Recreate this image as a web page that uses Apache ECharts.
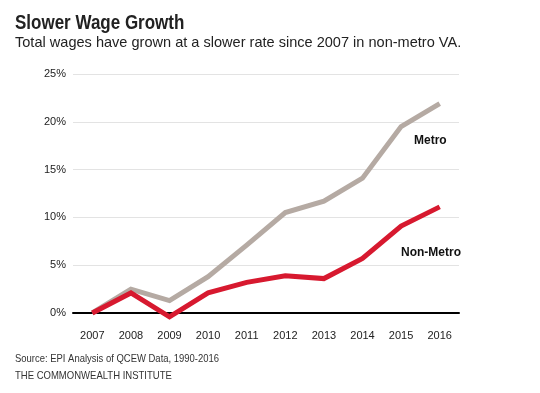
<!DOCTYPE html>
<html><head><meta charset="utf-8">
<script src="https://cdn.jsdelivr.net/npm/echarts@6/dist/echarts.min.js"></script>
<style>html,body{margin:0;padding:0;background:#fff}#c{width:540px;height:393px}</style>
</head><body><div id="c"></div>
<script>
const years = ['2007','2008','2009','2010','2011','2012','2013','2014','2015','2016'];
const metro = [0, 2.5, 1.3, 3.8, 7.1, 10.5, 11.7, 14.1, 19.5, 21.9];
const nonMetro = [0, 2.1, -0.4, 2.1, 3.2, 3.9, 3.6, 5.7, 9.1, 11.1];
const yTicks = [0, 5, 10, 15, 20, 25];

const F = '"Liberation Sans", Arial, sans-serif';
const chart = echarts.init(document.getElementById('c'), null, {renderer:'canvas'});
function txt(s, x, y, size, weight, fill, sx){
  return {type:'text', x:x, y:y, scaleX:sx, originX:0, originY:0,
    style:{text:s, x:0, y:0, fontFamily:F, fontSize:size, fontWeight:weight, fill:fill, align:'left', verticalAlign:'top'}};
}
chart.setOption({
  animation:false,
  backgroundColor:'#fff',
  grid:{left:73, right:81, top:74, bottom:80},
  xAxis:{type:'category', data:years, boundaryGap:true,
    axisLine:{show:true, lineStyle:{color:'#000', width:2}},
    axisTick:{show:false},
    axisLabel:{color:'#222', fontFamily:F, fontSize:11, margin:17}},
  yAxis:{type:'value', min:yTicks[0], max:yTicks[yTicks.length-1], interval:5,
    axisLine:{show:false}, axisTick:{show:false},
    splitLine:{lineStyle:{color:'#e3e3e3', width:1}},
    axisLabel:{color:'#222', fontFamily:F, fontSize:11, margin:7, formatter:v=>v+'%'}},
  series:[
    {name:'Metro', type:'line', data:metro, symbol:'none', clip:false, z:2,
      lineStyle:{color:'#b5aaa3', width:5, join:'miter'}},
    {name:'Non-Metro', type:'line', data:nonMetro, symbol:'none', clip:false, z:3,
      lineStyle:{color:'#d7192f', width:5, join:'miter'}}
  ],
  graphic:[
    txt('Slower Wage Growth', 15, 13, 20, 'bold', '#222', 0.85),
    txt('Total wages have grown at a slower rate since 2007 in non-metro VA.', 15, 35, 15, 'normal', '#222', 0.97),
    txt('Metro', 414, 135, 12, 'bold', '#111', 1),
    txt('Non-Metro', 401, 247, 12, 'bold', '#111', 1),
    txt('Source: EPI Analysis of QCEW Data, 1990-2016', 15, 353, 11, 'normal', '#333', 0.86),
    txt('THE COMMONWEALTH INSTITUTE', 15, 370, 11, 'normal', '#333', 0.865)
  ]
});
</script></body></html>
